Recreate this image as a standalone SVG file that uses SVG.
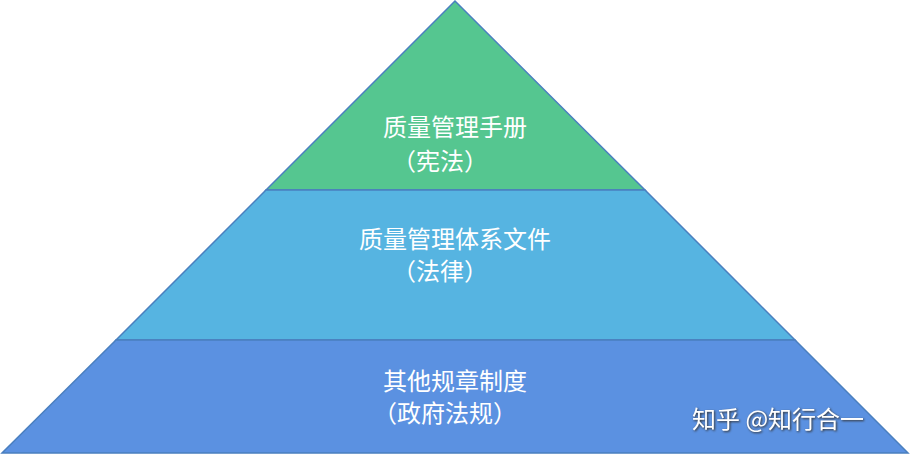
<svg xmlns="http://www.w3.org/2000/svg" width="911" height="456" viewBox="0 0 911 456">
<style>
.t{font-family:"Noto Sans CJK SC","Noto Sans",sans-serif;font-size:24px;fill:#fff;text-anchor:middle}
.tier{stroke:#4a7fbf;stroke-width:1.5}
.wm{font-family:"Noto Sans CJK SC",sans-serif;font-size:24px;fill:#fff}
</style>
<g id="tier-top"><polygon class="tier" points="455,1 645,190 266,190" fill="#55c690"/>
<text class="t" x="455" y="136">质量管理手册</text><text class="t" x="440" y="170">（宪法）</text></g>
<g id="tier-mid"><polygon class="tier" points="266,190 645,190 795,340 116,340" fill="#56b4e1"/>
<text class="t" x="455" y="248">质量管理体系文件</text><text class="t" x="440" y="280">（法律）</text></g>
<g id="tier-bottom"><polygon class="tier" points="116,340 795,340 908,453 2,453" fill="#5b91e1"/>
<text class="t" x="455" y="390">其他规章制度</text><text class="t" x="445" y="422">（政府法规）</text></g>
<g id="connectors"/>
<text class="wm" x="692" y="428" style="filter:drop-shadow(1px 1px 1px #333)">知乎 @知行合一</text>
</svg>
